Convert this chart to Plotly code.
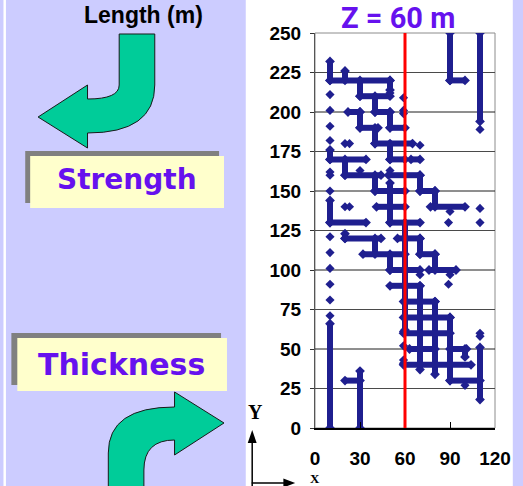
import plotly.graph_objects as go

# ---- slice data (Z = 60 m) ----------------------------------------------
z_value = 60

# vertical fracture traces: x, lower y, upper y
v_x  = [10, 20, 30, 50, 40, 30, 50, 40, 50, 10, 20, 40, 50, 70, 80, 10, 40, 50, 70, 80,
        70, 80, 90, 100, 110, 10, 30, 60, 90, 110, 20]
v_y0 = [220, 220, 210, 214, 200, 190, 190, 180, 170, 170, 160, 150, 130, 150, 140, 130, 110, 100, 110, 100,
        37, 34, 30, 45, 18, 0, 0, 62, 220, 194, 120]
v_y1 = [232, 226, 220, 220, 210, 200, 200, 190, 180, 176, 170, 160, 155, 160, 150, 144, 120, 110, 120, 110,
        90, 80, 70, 50, 51, 66, 36, 130, 250, 250, 123]

# horizontal fracture traces: y, left x, right x
h_y  = [220, 210, 200, 200, 190, 190, 180, 170, 170, 170, 160, 160, 150, 150, 140, 140, 130, 130,
        120, 120, 110, 110, 100, 100, 90, 80, 70, 60, 50, 50, 40, 30, 30, 220]
h_x0 = [10, 30, 22, 40, 30, 50, 40, 10, 50, 64, 20, 49, 40, 70, 41, 77, 10, 50,
        20, 55, 32, 70, 50, 76, 50, 59, 59, 59, 63, 90, 59, 20, 90, 90]
h_x1 = [50, 50, 30, 50, 42, 60, 65, 34, 60, 70, 44, 70, 60, 80, 60, 100, 34, 70,
        44, 70, 60, 80, 70, 94, 70, 80, 90, 90, 80, 101, 104, 30, 110, 100]

# isolated fracture points
dot_x = [10, 10, 10, 10, 20, 23, 10, 10, 30, 10, 10, 10, 10, 10, 10, 10, 20, 23, 90, 110,
         89, 110, 70, 110, 59, 59, 59, 50, 90, 89, 70, 100, 110, 110, 59, 59, 59, 59, 50]
dot_y = [211, 201, 191, 182, 180, 180, 162, 160, 163, 150, 121, 111, 101, 91, 81, 71, 140, 140, 137, 139,
         130, 130, 179, 189, 209, 201, 199, 212, 97, 91, 97, 27, 60, 58, 61, 52, 43, 41, 163]

x_ticks = [0, 30, 60, 90, 120]
y_ticks = list(range(0, 251, 25))
grid_levels = y_ticks[1:-1]

# ---- page geometry -------------------------------------------------------
W, H = 523, 486
ML, MR, MT, MB = 315, 26, 33, 58
PW, PH = W - ML - MR, H - MT - MB

LAVENDER = "#CCCCFF"
NAVY = "#1f1f8f"
PURPLE = "#6611EE"
GREEN = "#00CC99"


def fx(p):
    return (p - ML) / PW


def fy(p):
    return (H - MB - p) / PH


def pt(x, y):
    return f"{fx(x):.5f},{fy(y):.5f}"


def rect(x0, y0, x1, y1, fill):
    return dict(type="rect", xref="paper", yref="paper",
                x0=fx(x0), x1=fx(x1), y0=fy(y1), y1=fy(y0),
                fillcolor=fill, line=dict(width=0), layer="below")


# ---- traces --------------------------------------------------------------
vx, vy = [], []
for x, a, b in zip(v_x, v_y0, v_y1):
    vx += [x, x, None]
    vy += [a, b, None]
hx, hy = [], []
for y, a, b in zip(h_y, h_x0, h_x1):
    hx += [a, b, None]
    hy += [y, y, None]

seg_style = dict(mode="lines+markers", line=dict(color=NAVY, width=6),
                 marker=dict(symbol="diamond", size=7.5, color=NAVY),
                 hoverinfo="skip", showlegend=False)

fig = go.Figure()
fig.add_trace(go.Scatter(x=vx, y=vy, **seg_style))
fig.add_trace(go.Scatter(x=hx, y=hy, **seg_style))
fig.add_trace(go.Scatter(x=dot_x, y=dot_y, mode="markers",
                         marker=dict(symbol="diamond", size=7, color=NAVY),
                         hoverinfo="skip", showlegend=False))

# ---- decorations ---------------------------------------------------------
shapes = [
    rect(245, -2, 515, H + 2, "white"),
    rect(0, -2, 2.5, H + 2, "white"),
    # Strength label box with shadow
    rect(22, 151, 218, 203, "#808080"),
    rect(27, 156, 223, 208, "#FFFFCC"),
    # Thickness label box with shadow
    rect(8, 333, 220, 385, "#808080"),
    rect(14, 338, 226, 391, "#FFFFCC"),
]

arrow_top = (f"M{pt(117,34)} L{pt(153,34)} L{pt(153,85)} Q{pt(153,133)} {pt(85,133)} "
             f"L{pt(85,148)} L{pt(35,117)} L{pt(85,85)} L{pt(85,99)} Q{pt(117,99)} {pt(117,85)} Z")
arrow_bot = (f"M{pt(106,495)} L{pt(106,453)} Q{pt(106,407)} {pt(173,407)} L{pt(173,392)} "
             f"L{pt(223,423)} L{pt(173,455)} L{pt(173,440)} Q{pt(142,440)} {pt(142,470)} L{pt(142,495)} Z")
for p in (arrow_top, arrow_bot):
    shapes.append(dict(type="path", xref="paper", yref="paper", path=p,
                       fillcolor=GREEN, line=dict(color="#1a1a1a", width=1), layer="above"))

# coordinate system indicator
shapes += [
    dict(type="line", xref="paper", yref="paper", x0=fx(251.5), x1=fx(251.5), y0=fy(490), y1=fy(440),
         line=dict(color="black", width=1.5)),
    dict(type="path", xref="paper", yref="paper",
         path=f"M{pt(251.5,430)} L{pt(247,443)} L{pt(256,443)} Z", fillcolor="black",
         line=dict(width=0)),
    dict(type="line", xref="paper", yref="paper", x0=fx(251), x1=fx(285), y0=fy(483), y1=fy(483),
         line=dict(color="black", width=1.5)),
    dict(type="path", xref="paper", yref="paper",
         path=f"M{pt(295,483)} L{pt(283,478.5)} L{pt(283,487.5)} Z", fillcolor="black",
         line=dict(width=0)),
]

# plot frame and grid
shapes.append(dict(type="rect", xref="x domain", yref="y domain", x0=0, x1=1, y0=0, y1=1,
                   line=dict(color="#8c8c8c", width=1), fillcolor="rgba(0,0,0,0)", layer="below"))
for g in grid_levels:
    shapes.append(dict(type="line", xref="x domain", yref="y", x0=0, x1=1, y0=g, y1=g,
                       line=dict(color="#1e1e1e" if g % 50 == 0 else "#4a4a4a", width=1),
                       layer="below"))
# slice position
shapes.append(dict(type="line", xref="x", yref="y", x0=z_value, x1=z_value, y0=0, y1=250,
                   line=dict(color="#FF0000", width=3), layer="above"))

annotations = [
    dict(text=f"<b>Z = {z_value} m</b>", x=fx(399), y=fy(18),
         font=dict(family="Roboto, sans-serif", size=29, color=PURPLE)),
    dict(text="<b>Length (m)</b>", x=fx(142), y=fy(15),
         font=dict(family="Liberation Sans, Arial, sans-serif", size=23, color="black")),
    dict(text="<b>Strength</b>", x=fx(125), y=fy(179),
         font=dict(family="DejaVu Sans, Verdana, sans-serif", size=28, color=PURPLE)),
    dict(text="<b>Thickness</b>", x=fx(119), y=fy(364),
         font=dict(family="DejaVu Sans, Verdana, sans-serif", size=30, color=PURPLE)),
    dict(text="<b>Y</b>", x=fx(254.5), y=fy(412),
         font=dict(family="Liberation Serif, Times New Roman, serif", size=20, color="black")),
    dict(text="<b>X</b>", x=fx(315), y=fy(478.5),
         font=dict(family="Liberation Serif, Times New Roman, serif", size=13, color="black")),
]
for a in annotations:
    a.update(xref="paper", yref="paper", showarrow=False, xanchor="center", yanchor="middle")

tick_font = dict(family="Liberation Sans, Arial, sans-serif", size=19, color="black")

fig.update_layout(
    width=W, height=H,
    margin=dict(l=ML, r=MR, t=MT, b=MB, pad=0),
    paper_bgcolor=LAVENDER, plot_bgcolor="rgba(0,0,0,0)",
    shapes=shapes, annotations=annotations,
    xaxis=dict(range=[0, 120], tickvals=x_ticks, ticktext=[f"<b>{t}</b>" for t in x_ticks],
               ticks="inside", ticklen=6, tickcolor="black", showgrid=False, zeroline=False,
               showline=True, linecolor="black", linewidth=1.5, tickfont=tick_font,
               ticklabelstandoff=12, fixedrange=True),
    yaxis=dict(range=[0, 250], tickvals=y_ticks, ticktext=[f"<b>{t}</b>" for t in y_ticks],
               ticks="outside", ticklen=4, tickcolor="#333", showgrid=False, zeroline=False,
               showline=True, linecolor="#555", linewidth=1, tickfont=tick_font,
               ticklabelstandoff=5, fixedrange=True),
)

fig.write_html("out.html")
